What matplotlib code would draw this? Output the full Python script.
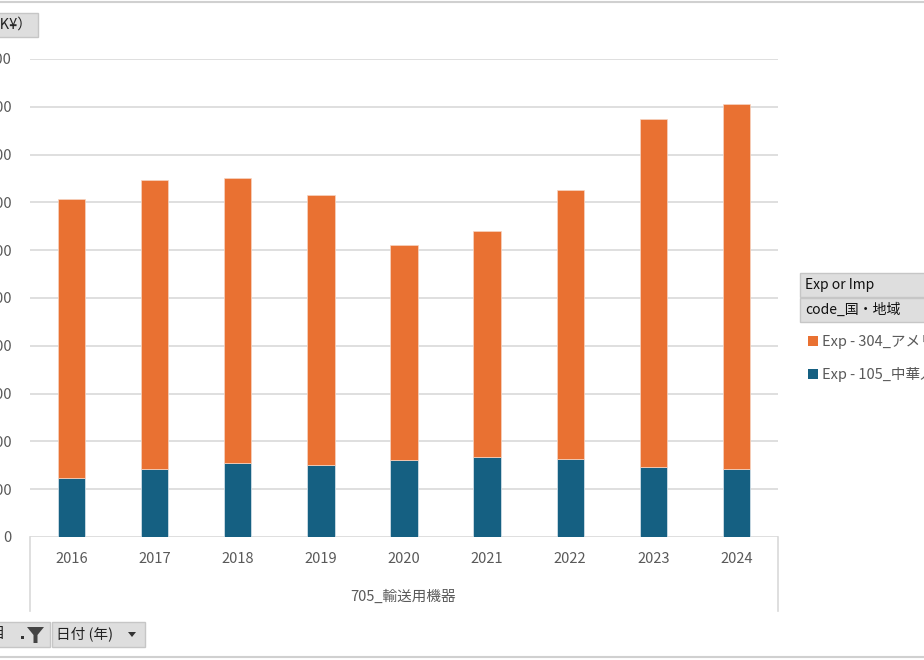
import numpy as np
import matplotlib.pyplot as plt
from matplotlib.patches import Rectangle, Polygon
from matplotlib.lines import Line2D

plt.rcParams['font.family'] = ['Noto Sans CJK JP', 'DejaVu Sans']

years = ['2016', '2017', '2018', '2019', '2020', '2021', '2022', '2023', '2024']
# Exp - 105_中華人民共和国 (bottom) and Exp - 304_アメリカ合衆国 (top)
china = [123, 142, 155, 151, 161, 167, 163, 146, 142]
usa = [584, 605, 596, 564, 450, 473, 563, 728, 764]
yticks = list(range(0, 1001, 100))
legend_labels = ['Exp - 304_アメリカ合衆国', 'Exp - 105_中華人民共和国']
colors = ['#E97132', '#156082']

W, H = 924, 660
fig = plt.figure(figsize=(W / 100, H / 100), dpi=100)


def fx(x):
    return x / W


def fy(y):
    return 1 - y / H


ax = fig.add_axes([fx(30), fy(537), 748 / W, 478 / H])
x = np.arange(len(years))
ax.bar(x, china, width=0.33, color=colors[1], edgecolor='#dfe8ee', linewidth=0.5, zorder=3)
ax.bar(x, usa, width=0.33, bottom=china, color=colors[0], edgecolor='#f6d5c2', linewidth=0.5, zorder=3)
ax.set_xlim(-0.5, len(years) - 0.5)
ax.set_ylim(0, 1000)
ax.set_yticks(yticks)
ax.set_yticklabels([str(v) for v in yticks])
ax.set_xticks(x)
ax.set_xticklabels(years)
ax.grid(axis='y', color='#d9d9d9', linewidth=1.2, zorder=0)
for s in ax.spines.values():
    s.set_visible(False)
ax.tick_params(axis='y', length=0, pad=13, labelsize=10.5, labelcolor='#595959')
ax.tick_params(axis='x', length=0, pad=11, labelsize=10.5, labelcolor='#595959')

# category box lines and outer border
for xx in (30, 778):
    fig.add_artist(Line2D([fx(xx), fx(xx)], [fy(537), fy(611)], color='#d9d9d9', lw=1.2))
fig.add_artist(Line2D([0, 1], [fy(2), fy(2)], color='#d0d0d0', lw=1.5))
fig.add_artist(Line2D([0, 1], [fy(657), fy(657)], color='#d0d0d0', lw=1.5))
fig.text(fx(403), fy(597), '705_輸送用機器', ha='center', va='center', fontsize=10.5, color='#595959')


def button(x0, y0, x1, y1):
    fig.add_artist(Rectangle((fx(x0), fy(y1)), fx(x1 - x0), (y1 - y0) / H,
                             facecolor='#dedede', edgecolor='#c6c6c6', lw=1))


# value field button (cut at the left edge)
button(-5, 13, 38, 37)
fig.text(fx(-14), fy(25), '（K¥）', ha='left', va='center', fontsize=10.5, color='#222222')

# legend header buttons
button(800, 273, 930, 297)
fig.text(fx(805), fy(285), 'Exp or Imp', ha='left', va='center', fontsize=10, color='#111111')
button(800, 298, 930, 322)
fig.text(fx(805), fy(310), 'code_国・地域', ha='left', va='center', fontsize=10, color='#111111')
for i, (lab, c) in enumerate(zip(legend_labels, colors)):
    yy = 341 + i * 33
    fig.add_artist(Rectangle((fx(808), fy(yy + 5)), fx(10), 10 / H, facecolor=c, edgecolor='none'))
    fig.text(fx(822), fy(yy), lab, ha='left', va='center', fontsize=10.5, color='#595959')

# axis field buttons at the bottom
button(-5, 622, 50, 647)
fig.text(fx(6), fy(634), '品目', ha='right', va='center', fontsize=10.5, color='#222222')
fig.add_artist(Polygon([(fx(27), fy(627)), (fx(44), fy(627)), (fx(37.5), fy(635)),
                        (fx(37.5), fy(643)), (fx(33.5), fy(643)), (fx(33.5), fy(635))],
                       closed=True, facecolor='#444444', edgecolor='none'))
fig.add_artist(Rectangle((fx(21), fy(639)), fx(3), 3 / H, facecolor='#333333', edgecolor='none'))
button(52, 622, 145, 647)
fig.text(fx(56), fy(634), '日付 (年)', ha='left', va='center', fontsize=10.5, color='#222222')
fig.add_artist(Polygon([(fx(128), fy(632)), (fx(136), fy(632)), (fx(132), fy(637))],
                       closed=True, facecolor='#333333', edgecolor='none'))

fig.savefig('out.png', dpi=100)
